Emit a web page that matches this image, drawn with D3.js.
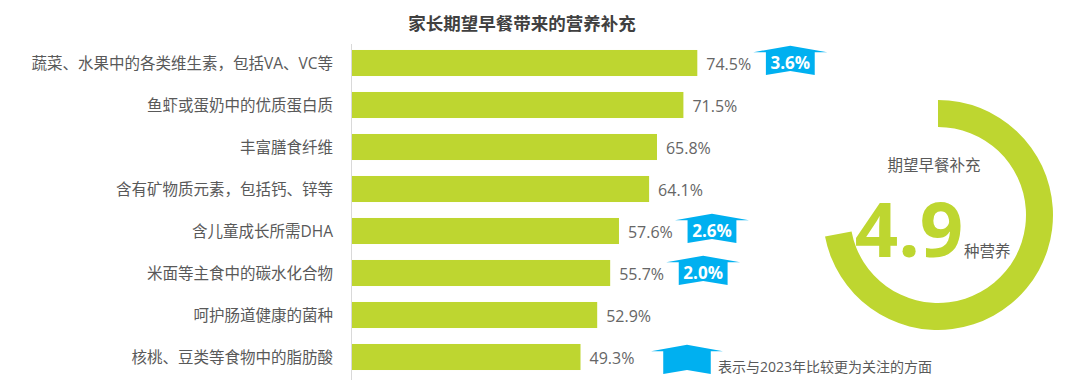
<!DOCTYPE html>
<html>
<head>
<meta charset="utf-8">
<script src="https://cdn.jsdelivr.net/npm/d3@7"></script>
<style>
  html, body { margin: 0; padding: 0; background: #fff; }
  svg text { font-family: "Open Sans", "Noto Sans CJK SC", sans-serif; }
</style>
</head>
<body>
<svg id="chart" width="1087" height="392"></svg>
<script>
// chart data
var title = '家长期望早餐带来的营养补充';
var categories = [
  '蔬菜、水果中的各类维生素，包括VA、VC等',
  '鱼虾或蛋奶中的优质蛋白质',
  '丰富膳食纤维',
  '含有矿物质元素，包括钙、锌等',
  '含儿童成长所需DHA',
  '米面等主食中的碳水化合物',
  '呵护肠道健康的菌种',
  '核桃、豆类等食物中的脂肪酸'
];
var values = [74.5, 71.5, 65.8, 64.1, 57.6, 55.7, 52.9, 49.3];
// growth vs 2023 (only marked items)
var riseCategories = [categories[0], categories[4], categories[5]];
var riseValues = [3.6, 2.6, 2.0];
var legendText = '表示与2023年比较更为关注的方面';
var ringLabel = '期望早餐补充';
var ringValue = '4.9';
var ringUnit = '种营养';
var ringShare = 0.72;

var green = '#bed630';
var blue = '#00b0f0';

var svg = d3.select('#chart');

var x = d3.scaleLinear().domain([0, 100]).range([352, 815.5]);
var y = d3.scaleBand().domain(categories).range([42, 378]).paddingInner(0.38).paddingOuter(0.19);

svg.append('text')
  .attr('x', 522)
  .attr('y', 23)
  .attr('text-anchor', 'middle')
  .attr('dominant-baseline', 'central')
  .style('font-size', '17.5px')
  .style('font-weight', 'bold')
  .style('fill', '#404040')
  .text(title);

// vertical axis line
svg.append('line')
  .attr('x1', 351.5).attr('x2', 351.5)
  .attr('y1', 44).attr('y2', 380)
  .style('stroke', '#d9d9d9')
  .style('stroke-width', 1);

svg.append('g').selectAll('rect')
  .data(values)
  .enter()
  .append('rect')
  .attr('x', x(0))
  .attr('y', function(d, i) { return y(categories[i]); })
  .attr('height', y.bandwidth())
  .attr('width', function(d) { return x(d) - x(0); })
  .style('fill', green);

svg.append('g').selectAll('text')
  .data(categories)
  .enter()
  .append('text')
  .attr('x', 333)
  .attr('y', function(d) { return y(d) + y.bandwidth() / 2; })
  .attr('text-anchor', 'end')
  .attr('dominant-baseline', 'central')
  .style('font-size', '15.5px')
  .style('fill', '#595959')
  .text(function(d) { return d; });

svg.append('g').selectAll('text')
  .data(values)
  .enter()
  .append('text')
  .attr('x', function(d) { return x(d) + 9; })
  .attr('y', function(d, i) { return y(categories[i]) + y.bandwidth() / 2 + 1; })
  .attr('dominant-baseline', 'central')
  .style('font-size', '16px')
  .style('fill', '#666')
  .text(function(d) { return d.toFixed(1) + '%'; });

// arrow badge shape, centred on its body
function badgePath(w, h) {
  var bw = w * 0.66, top = -h * 0.45, peak = -h * 0.72, bot = h * 0.5, notch = h * 0.33;
  return 'M' + (-w) + ',' + top + 'L0,' + peak + 'L' + w + ',' + top +
    'L' + bw + ',' + top + 'L' + bw + ',' + bot + 'L0,' + notch +
    'L' + (-bw) + ',' + bot + 'L' + (-bw) + ',' + top + 'Z';
}

var badges = svg.append('g').selectAll('g')
  .data(riseValues)
  .enter()
  .append('g')
  .attr('transform', function(d, i) {
    var c = riseCategories[i];
    var v = values[categories.indexOf(c)];
    return 'translate(' + (x(v) + 93) + ',' + (y(c) + y.bandwidth() / 2) + ')';
  });

badges.append('path')
  .attr('d', badgePath(37, 24))
  .style('fill', blue);

badges.append('text')
  .attr('x', 0)
  .attr('y', -0.5)
  .attr('text-anchor', 'middle')
  .attr('dominant-baseline', 'central')
  .style('font-size', '17px')
  .style('font-weight', 'bold')
  .style('fill', '#fff')
  .text(function(d) { return d.toFixed(1) + '%'; });

// legend
var legend = svg.append('g').attr('transform', 'translate(687,362)');
legend.append('path')
  .attr('d', badgePath(36, 24))
  .style('fill', blue);
legend.append('text')
  .attr('x', 31)
  .attr('y', 4)
  .attr('dominant-baseline', 'central')
  .style('font-size', '14px')
  .style('fill', '#595959')
  .text(legendText);

// ring
var ring = svg.append('g').attr('transform', 'translate(938,215)');
var arc = d3.arc().innerRadius(88).outerRadius(115);
ring.append('path')
  .attr('d', arc({ startAngle: 0, endAngle: 2 * Math.PI * ringShare }))
  .style('fill', green);

ring.append('text')
  .attr('x', -4)
  .attr('y', -50)
  .attr('text-anchor', 'middle')
  .attr('dominant-baseline', 'central')
  .style('font-size', '15.5px')
  .style('fill', '#595959')
  .text(ringLabel);

ring.append('text')
  .attr('x', -29)
  .attr('y', 42)
  .attr('text-anchor', 'middle')
  .style('font-size', '76px')
  .style('font-weight', 'bold')
  .style('fill', green)
  .text(ringValue);

ring.append('text')
  .attr('x', 26)
  .attr('y', 42)
  .style('font-size', '15.5px')
  .style('fill', '#595959')
  .text(ringUnit);
</script>
</body>
</html>
